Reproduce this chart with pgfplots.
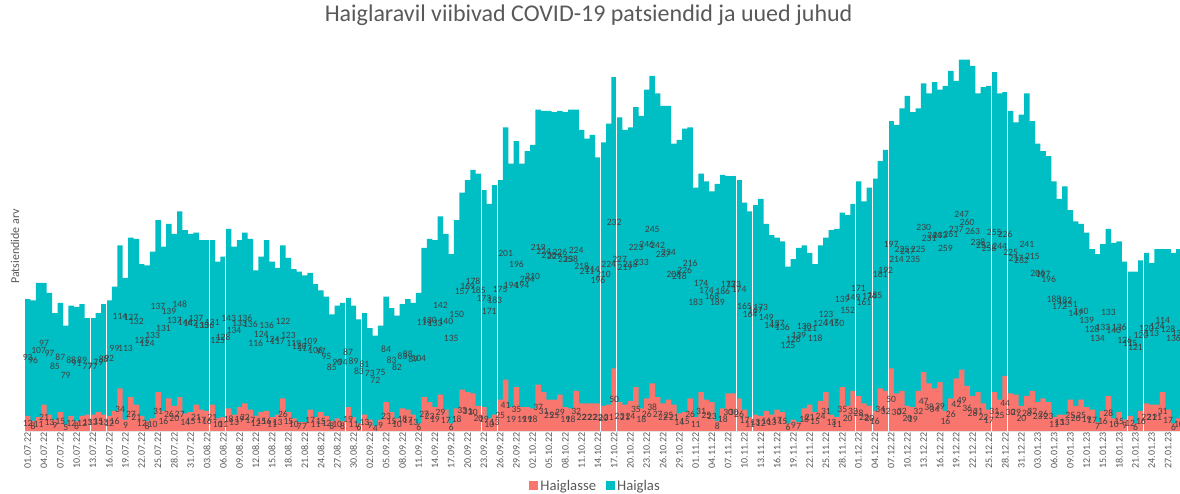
\documentclass[border=0pt]{standalone}
\usepackage{fontspec}
\setmainfont{Carlito}
\usepackage{pgfplots}
\usepackage{pgfplotstable}
\pgfplotsset{compat=1.18}
\definecolor{tealc}{HTML}{00BFC4}
\definecolor{salmonc}{HTML}{F8766D}
\definecolor{txtc}{HTML}{595959}
\definecolor{lblc}{HTML}{404040}
\pgfplotsset{sq legend/.style={legend image code/.code={\fill[##1] (0pt,-4.5pt) rectangle (9pt,4.5pt);}}}
\pgfplotstableread{
i s t
0 12 93
1 8 96
2 11 107
3 21 97
4 13 97
5 9 85
6 15 87
7 5 79
8 12 88
9 8 91
10 12 89
11 13 77
12 13 77
13 15 79
14 13 88
15 12 92
16 16 99
17 34 114
18 9 113
19 27 127
20 21 132
21 12 121
22 8 124
23 10 133
24 31 137
25 16 131
26 26 139
27 20 137
28 27 148
29 14 146
30 15 142
31 21 137
32 17 135
33 16 136
34 21 131
35 10 125
36 11 128
37 18 143
38 13 134
39 19 133
40 22 136
41 17 136
42 12 116
43 15 124
44 16 136
45 11 124
46 13 117
47 26 122
48 15 123
49 10 119
50 7 120
51 7 117
52 17 109
53 11 106
54 15 97
55 12 95
56 8 85
57 10 90
58 8 94
59 19 87
60 11 89
61 6 83
62 13 81
63 9 73
64 4 72
65 9 75
66 23 84
67 15 83
68 10 82
69 18 83
70 17 88
71 13 89
72 6 104
73 27 119
74 23 130
75 19 133
76 29 142
77 17 140
78 6 135
79 18 150
80 33 157
81 31 169
82 30 178
83 20 185
84 19 173
85 10 171
86 13 183
87 25 175
88 41 201
89 19 194
90 35 196
91 19 194
92 19 204
93 18 210
94 37 219
95 31 224
96 25 230
97 25 229
98 29 226
99 19 235
100 18 238
101 32 224
102 22 218
103 22 211
104 22 214
105 22 196
106 20 210
107 21 224
108 50 232
109 23 227
110 21 219
111 24 218
112 35 223
113 18 233
114 26 246
115 38 245
116 27 242
117 22 237
118 25 234
119 21 208
120 14 218
121 15 226
122 26 216
123 11 183
124 31 174
125 25 174
126 23 168
127 8 189
128 18 186
129 30 173
130 30 173
131 26 174
132 17 165
133 11 164
134 13 167
135 12 173
136 16 149
137 13 143
138 17 137
139 15 136
140 6 125
141 9 128
142 7 139
143 18 130
144 21 121
145 15 118
146 24 124
147 31 123
148 13 147
149 11 150
150 35 139
151 20 152
152 32 149
153 28 171
154 22 161
155 20 174
156 16 185
157 34 181
158 32 192
159 50 197
160 30 214
161 32 225
162 20 247
163 19 235
164 32 225
165 47 230
166 38 231
167 34 244
168 39 233
169 16 259
170 26 261
171 42 237
172 49 247
173 36 260
174 28 263
175 31 238
176 22 252
177 17 258
178 31 255
179 25 244
180 44 226
181 30 225
182 29 217
183 20 232
184 28 241
185 32 215
186 23 206
187 26 197
188 23 196
189 11 188
190 13 172
191 13 182
192 25 151
193 20 147
194 25 140
195 19 139
196 17 128
197 7 134
198 16 133
199 28 133
200 10 140
201 15 136
202 9 126
203 12 115
204 6 121
205 16 120
206 22 120
207 21 113
208 21 124
209 31 114
210 17 128
211 6 136
212 10 135
}\data
\begin{document}
\begin{tikzpicture}
\useasboundingbox (0,0) rectangle (1180pt,493pt);
\begin{axis}[
  at={(25pt,62pt)}, anchor=south west,
  scale only axis, width=1155pt, height=376.5pt,
  xmin=-0.5, xmax=212.2, ymin=0, ymax=300,
  /pgf/number format/assume math mode=true,
  axis line style={draw=none},
  ytick=\empty,
  major tick length=0pt,
  xtick={0,3,...,210},
  xticklabels={01.07.22,04.07.22,07.07.22,10.07.22,13.07.22,16.07.22,19.07.22,22.07.22,25.07.22,28.07.22,31.07.22,03.08.22,06.08.22,09.08.22,12.08.22,15.08.22,18.08.22,21.08.22,24.08.22,27.08.22,30.08.22,02.09.22,05.09.22,08.09.22,11.09.22,14.09.22,17.09.22,20.09.22,23.09.22,26.09.22,29.09.22,02.10.22,05.10.22,08.10.22,11.10.22,14.10.22,17.10.22,20.10.22,23.10.22,26.10.22,29.10.22,01.11.22,04.11.22,07.11.22,10.11.22,13.11.22,16.11.22,19.11.22,22.11.22,25.11.22,28.11.22,01.12.22,04.12.22,07.12.22,10.12.22,13.12.22,16.12.22,19.12.22,22.12.22,25.12.22,28.12.22,31.12.22,03.01.23,06.01.23,09.01.23,12.01.23,15.01.23,18.01.23,21.01.23,24.01.23,27.01.23},
  xticklabel style={rotate=90, anchor=east, inner sep=1.5pt, font=\fontsize{10}{12}\selectfont, text=txtc},
  extra x ticks={11.5,14.5,33.5,36.5,58.5,61.5,83.5,86.5,105.5,108.5,130.5,133.5,152.5,155.5,158.5,177.5,180.5,202.5,205.5},
  extra x tick labels={},
  extra x tick style={grid=major, major grid style={white, line width=0.9pt}},
  axis on top,
  title={Haiglaravil viibivad COVID-19 patsiendid ja uued juhud},
  title style={at={(axis description cs:0.488,1.089)}, anchor=center, font=\fontsize{24}{28}\selectfont, text=txtc},
  ylabel={Patsiendide arv},
  every axis y label/.style={at={(axis description cs:-0.0087,0.49)}, rotate=90, anchor=center, font=\fontsize{12}{14}\selectfont, text=txtc},
  legend columns=2,
  legend style={at={(axis description cs:0.494,-0.146)}, anchor=center, draw=none, fill=none, font=\fontsize{14.7}{16}\selectfont, text=txtc, /tikz/every even column/.append style={column sep=8pt}},
]
\addplot[ybar, bar width=1, bar shift=0pt, fill=tealc, draw=none, forget plot] table[x=i, y expr=\thisrow{s}+\thisrow{t}] {\data};
\addplot[ybar, bar width=1, bar shift=0pt, fill=salmonc, draw=none, sq legend] table[x=i, y=s] {\data};
\addlegendentry{Haiglasse}
\addlegendimage{fill=tealc, draw=none, sq legend}
\addlegendentry{Haiglas}
\addplot[draw=none, forget plot, nodes near coords, point meta=explicit, nodes near coords align={center}, every node near coord/.append style={font=\fontsize{9.6}{10}\selectfont, text=lblc, inner sep=0pt}] table[x=i, y expr=\thisrow{s}+0.5*\thisrow{t}, meta=t] {\data};
\addplot[draw=none, forget plot, nodes near coords, point meta=explicit, nodes near coords align={center}, every node near coord/.append style={font=\fontsize{9.6}{10}\selectfont, text=lblc, inner sep=0pt}] table[x=i, y expr=0.5*\thisrow{s}, meta=s] {\data};
\end{axis}
\end{tikzpicture}
\end{document}
